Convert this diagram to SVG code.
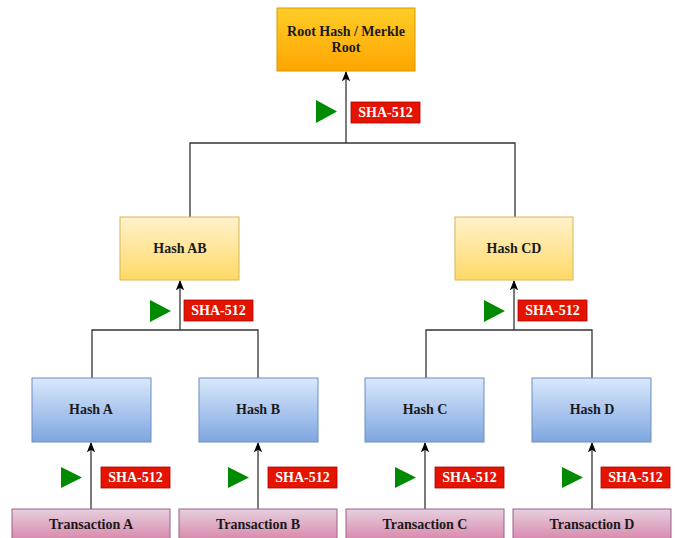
<svg xmlns="http://www.w3.org/2000/svg" width="675" height="538" viewBox="0 0 675 538">
<style>
text{font-family:"Liberation Serif","Times New Roman",serif;font-weight:bold;font-size:14px;text-anchor:middle;fill:#1a1a1a}
.lbl{fill:#fff;font-size:14px}
.ln{stroke:#333;stroke-width:1.3;fill:none}
.tag{fill:#e51400;stroke:#b20000;stroke-width:0.8}
.tri{fill:#008a00}
</style>
<defs>
<linearGradient id="gRoot" x1="0" y1="0" x2="0" y2="1"><stop offset="0" stop-color="#ffcd28"/><stop offset="1" stop-color="#ffa500"/></linearGradient>
<linearGradient id="gY" x1="0" y1="0" x2="0" y2="1"><stop offset="0" stop-color="#fff2cc"/><stop offset="1" stop-color="#ffd966"/></linearGradient>
<linearGradient id="gB" x1="0" y1="0" x2="0" y2="1"><stop offset="0" stop-color="#dae8fc"/><stop offset="1" stop-color="#7ea6e0"/></linearGradient>
<linearGradient id="gP" x1="0" y1="0" x2="0" y2="1"><stop offset="0" stop-color="#e6d0de"/><stop offset="1" stop-color="#d5739d"/></linearGradient>
<marker id="arr" viewBox="0 0 10 10" refX="9" refY="5" markerWidth="8" markerHeight="8" orient="auto"><path d="M0,1 L10,5 L0,9 L2.5,5 Z" fill="#000"/></marker>
</defs>

<g id="connectors">
<path class="ln" d="M346,143 V72" marker-end="url(#arr)"/>
<path class="ln" d="M190,217 V143 H515 V217"/>
<path class="ln" d="M180,330 V281" marker-end="url(#arr)"/>
<path class="ln" d="M92,378 V330 H258 V378"/>
<path class="ln" d="M514,330 V281" marker-end="url(#arr)"/>
<path class="ln" d="M426,378 V330 H592 V378"/>
<path class="ln" d="M91,509 V443" marker-end="url(#arr)"/>
<path class="ln" d="M258,509 V443" marker-end="url(#arr)"/>
<path class="ln" d="M425,509 V443" marker-end="url(#arr)"/>
<path class="ln" d="M592,509 V443" marker-end="url(#arr)"/>
</g>

<g id="root"><rect x="277" y="8" width="138" height="63" fill="url(#gRoot)" stroke="#d79b00"/><text x="346" y="36">Root Hash / Merkle</text><text x="346" y="52">Root</text></g>
<g id="hashAB"><rect x="120" y="217" width="119" height="63" fill="url(#gY)" stroke="#d6b656"/><text x="180" y="253">Hash AB</text></g>
<g id="hashCD"><rect x="455" y="217" width="118" height="63" fill="url(#gY)" stroke="#d6b656"/><text x="514" y="253">Hash CD</text></g>
<g id="hashA"><rect x="32" y="378" width="119" height="64" fill="url(#gB)" stroke="#6c8ebf"/><text x="91" y="414">Hash A</text></g>
<g id="hashB"><rect x="199" y="378" width="119" height="64" fill="url(#gB)" stroke="#6c8ebf"/><text x="258" y="414">Hash B</text></g>
<g id="hashC"><rect x="365" y="378" width="119" height="64" fill="url(#gB)" stroke="#6c8ebf"/><text x="425" y="414">Hash C</text></g>
<g id="hashD"><rect x="532" y="378" width="119" height="64" fill="url(#gB)" stroke="#6c8ebf"/><text x="592" y="414">Hash D</text></g>
<g id="txA"><rect x="12" y="509" width="158" height="40" fill="url(#gP)" stroke="#996185"/><text x="91" y="529">Transaction A</text></g>
<g id="txB"><rect x="179" y="509" width="158" height="40" fill="url(#gP)" stroke="#996185"/><text x="258" y="529">Transaction B</text></g>
<g id="txC"><rect x="346" y="509" width="158" height="40" fill="url(#gP)" stroke="#996185"/><text x="425" y="529">Transaction C</text></g>
<g id="txD"><rect x="513" y="509" width="158" height="40" fill="url(#gP)" stroke="#996185"/><text x="592" y="529">Transaction D</text></g>

<g id="sha-root"><polygon class="tri" points="316,100 337,111.5 316,123"/><rect class="tag" x="351" y="102" width="69" height="21"/><text class="lbl" x="385.5" y="117">SHA-512</text></g>
<g id="sha-ab"><polygon class="tri" points="150,300 171,311 150,322"/><rect class="tag" x="184" y="300" width="69" height="21"/><text class="lbl" x="218.5" y="315">SHA-512</text></g>
<g id="sha-cd"><polygon class="tri" points="484,300 505,311 484,322"/><rect class="tag" x="518" y="300" width="69" height="21"/><text class="lbl" x="552.5" y="315">SHA-512</text></g>
<g id="sha-a"><polygon class="tri" points="61,467 82,477.5 61,488"/><rect class="tag" x="101" y="467" width="69" height="21"/><text class="lbl" x="135.5" y="482">SHA-512</text></g>
<g id="sha-b"><polygon class="tri" points="228,467 249,477.5 228,488"/><rect class="tag" x="268" y="467" width="69" height="21"/><text class="lbl" x="302.5" y="482">SHA-512</text></g>
<g id="sha-c"><polygon class="tri" points="395,467 416,477.5 395,488"/><rect class="tag" x="435" y="467" width="69" height="21"/><text class="lbl" x="469.5" y="482">SHA-512</text></g>
<g id="sha-d"><polygon class="tri" points="562,467 583,477.5 562,488"/><rect class="tag" x="601" y="467" width="69" height="21"/><text class="lbl" x="635.5" y="482">SHA-512</text></g>
</svg>
